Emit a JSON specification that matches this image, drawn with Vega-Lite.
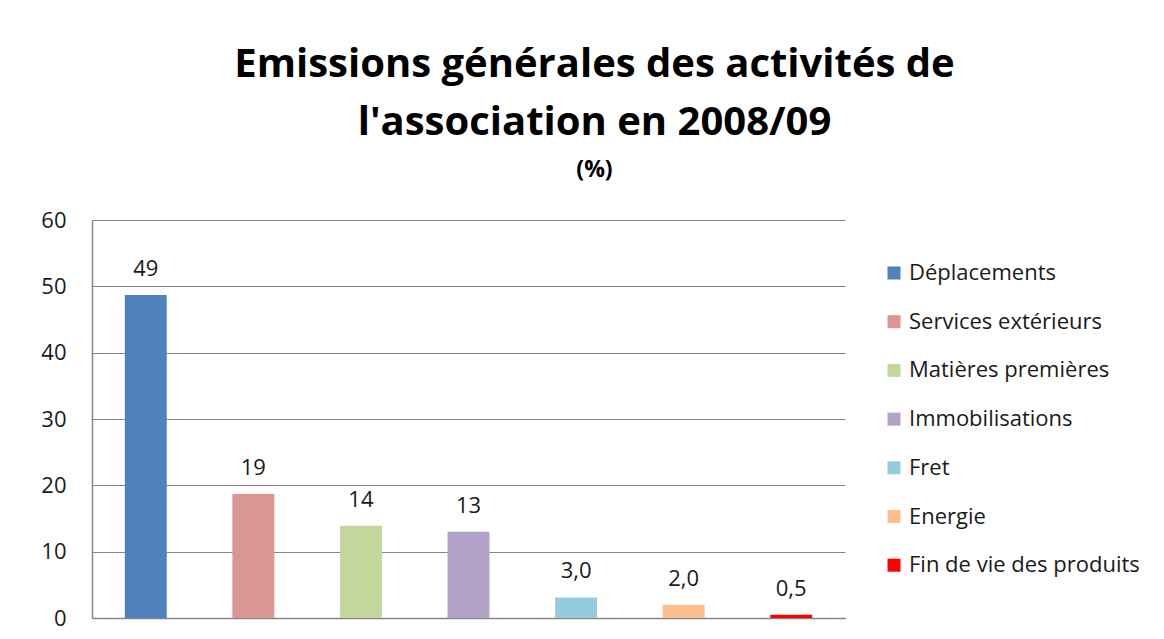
{
  "$schema": "https://vega.github.io/schema/vega-lite/v6.json",
  "autosize": {"type": "none"},
  "width": 753,
  "height": 398,
  "padding": {"left": 92, "top": 220, "right": 319, "bottom": 21},
  "background": "white",
  "config": {"view": {"stroke": null}},
  "title": {
    "text": ["Emissions générales des activités de", "l'association en 2008/09"],
    "subtitle": "(%)",
    "anchor": "middle",
    "frame": "group",
    "dx": 126,
    "offset": 27,
    "font": "Open Sans",
    "fontSize": 40,
    "fontWeight": "bold",
    "lineHeight": 58,
    "color": "#000000",
    "subtitleFont": "Open Sans",
    "subtitleFontSize": 23,
    "subtitleFontWeight": "bold",
    "subtitleColor": "#000000",
    "subtitlePadding": 16
  },
  "data": {
    "values": [
      {"categorie": "Déplacements", "valeur": 48.7, "etiquette": "49"},
      {"categorie": "Services extérieurs", "valeur": 18.7, "etiquette": "19"},
      {"categorie": "Matières premières", "valeur": 13.9, "etiquette": "14"},
      {"categorie": "Immobilisations", "valeur": 13.0, "etiquette": "13"},
      {"categorie": "Fret", "valeur": 3.1, "etiquette": "3,0"},
      {"categorie": "Energie", "valeur": 2.0, "etiquette": "2,0"},
      {"categorie": "Fin de vie des produits", "valeur": 0.5, "etiquette": "0,5"}
    ]
  },
  "encoding": {
    "x": {
      "field": "categorie",
      "type": "nominal",
      "sort": null,
      "scale": {"paddingInner": 0.61, "paddingOuter": 0.305},
      "axis": {"labels": false, "ticks": false, "title": null, "domainColor": "#868686", "domainWidth": 1.5}
    },
    "y": {
      "field": "valeur",
      "type": "quantitative",
      "scale": {"domain": [0, 60], "nice": false},
      "axis": {
        "values": [0, 10, 20, 30, 40, 50, 60],
        "title": null,
        "ticks": false,
        "labelPadding": 26,
        "labelFont": "Open Sans",
        "labelFontSize": 22,
        "labelColor": "#1a1a1a",
        "gridColor": "#868686",
        "gridWidth": 1,
        "domainColor": "#868686",
        "domainWidth": 1.5
      }
    }
  },
  "layer": [
    {
      "mark": {"type": "bar"},
      "encoding": {
        "color": {
          "field": "categorie",
          "type": "nominal",
          "sort": null,
          "scale": {
            "domain": ["Déplacements", "Services extérieurs", "Matières premières", "Immobilisations", "Fret", "Energie", "Fin de vie des produits"],
            "range": ["#4F81BD", "#D99694", "#C3D69B", "#B3A2C7", "#93CDDD", "#FAC090", "#FF0000"]
          },
          "legend": {
            "title": null,
            "orient": "none",
            "legendX": 791,
            "legendY": 42,
            "symbolType": "square",
            "symbolSize": 169,
            "symbolStrokeWidth": 0,
            "symbolOpacity": 1,
            "labelFont": "Open Sans",
            "labelFontSize": 22,
            "labelColor": "#1a1a1a",
            "labelOffset": 4,
            "labelLimit": 400,
            "rowPadding": 26.7
          }
        }
      }
    },
    {
      "mark": {"type": "text", "baseline": "alphabetic", "dy": -19, "font": "Open Sans", "fontSize": 22, "color": "#1a1a1a"},
      "encoding": {
        "text": {"field": "etiquette"}
      }
    }
  ]
}
